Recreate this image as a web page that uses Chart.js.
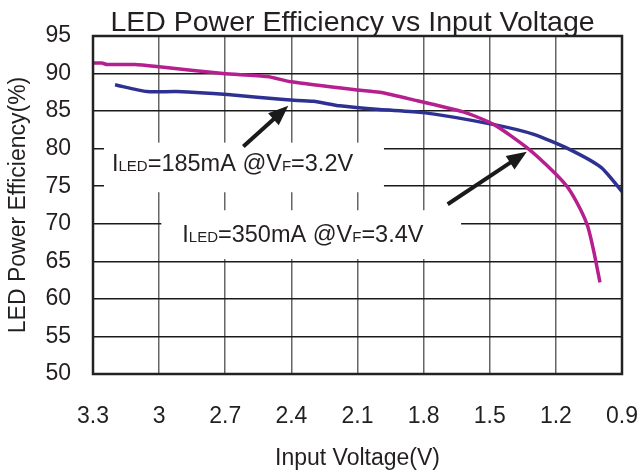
<!DOCTYPE html>
<html>
<head>
<meta charset="utf-8">
<script src="https://cdn.jsdelivr.net/npm/chart.js"></script>
<style>
  body { margin: 0; background: #fff; }
  canvas { display: block; }
</style>
</head>
<body>
<canvas id="myChart" width="640" height="475"></canvas>
<script>
// valores
const volt350 = [3.30, 3.26, 3.236, 3.11, 3.00, 2.71, 2.51, 2.40, 2.10, 2.00, 1.86, 1.62, 1.48, 1.33, 1.21, 1.145, 1.09, 1.055, 1.027, 1.00];
const eff350  = [91.4, 91.4, 91.2, 91.2, 90.9, 90.0, 89.6, 88.9, 87.8, 87.5, 86.6, 84.9, 83.2, 80.1, 76.9, 74.8, 72.0, 69.6, 66.2, 62.2];

const volt185 = [3.20, 3.055, 2.92, 2.69, 2.42, 2.30, 2.18, 2.00, 1.80, 1.48, 1.30, 1.145, 0.995, 0.90];
const eff185  = [88.5, 87.6, 87.6, 87.2, 86.5, 86.3, 85.7, 85.2, 84.8, 83.2, 81.9, 80.0, 77.5, 74.3];

const xTicks = [0.9, 1.2, 1.5, 1.8, 2.1, 2.4, 2.7, 3.0, 3.3];
const xTickLabels = ['0.9', '1.2', '1.5', '1.8', '2.1', '2.4', '2.7', '3', '3.3'];

const titleText = 'LED Power Efficiency vs Input Voltage';

// etiquetas: [x, y] en unidades de datos
const labels = [
  { parts: [['I', 1], ['LED', 0], ['=185mA @V', 1], ['F', 0], ['=3.2V', 1]], at: [3.214, 78.1], box: [3.25, 1.98, 80.8, 74.2] },
  { parts: [['I', 1], ['LED', 0], ['=350mA @V', 1], ['F', 0], ['=3.4V', 1]], at: [2.895, 68.7], box: [2.99, 1.63, 71.8, 65.3] }
];
const arrows = [
  { from: [2.618, 80.3], to: [2.414, 85.7] },
  { from: [1.691, 72.6], to: [1.332, 79.6] }
];

const FONT = '"Liberation Sans", Arial, sans-serif';
const TXT = '#231f20';

const toXY = (xs, ys) => xs.map((v, i) => ({ x: v, y: ys[i] }));

const annoPlugin = {
  id: 'anno',
  beforeDatasetsDraw(chart) {
    const { ctx, scales: { x, y } } = chart;
    ctx.save();
    ctx.fillStyle = '#fff';
    labels.forEach(l => {
      const x1 = x.getPixelForValue(l.box[0]), x2 = x.getPixelForValue(l.box[1]);
      const y1 = y.getPixelForValue(l.box[2]), y2 = y.getPixelForValue(l.box[3]);
      ctx.fillRect(x1, y1, x2 - x1, y2 - y1);
    });
    ctx.restore();
  },
  afterDatasetsDraw(chart) {
    const { ctx, chartArea: a, scales: { x, y } } = chart;
    ctx.save();
    // marco
    ctx.strokeStyle = '#222';
    ctx.lineWidth = 2.5;
    ctx.strokeRect(a.left, a.top, a.right - a.left, a.bottom - a.top);

    // titulo
    ctx.fillStyle = TXT;
    ctx.textAlign = 'center';
    ctx.textBaseline = 'alphabetic';
    ctx.font = '28.5px ' + FONT;
    ctx.fillText(titleText, (a.left + a.right) / 2 - 5, 30.5);
    ctx.textAlign = 'left';

    // textos
    labels.forEach(l => {
      let px = x.getPixelForValue(l.at[0]);
      const py = y.getPixelForValue(l.at[1]) + 8.5;
      l.parts.forEach(p => {
        ctx.font = (p[1] ? '23.5px ' : '15px ') + FONT;
        ctx.fillText(p[0], px, py);
        px += ctx.measureText(p[0]).width;
      });
    });

    // flechas
    ctx.strokeStyle = '#1a1a1a';
    ctx.fillStyle = '#1a1a1a';
    ctx.lineWidth = 4;
    arrows.forEach(ar => {
      const x0 = x.getPixelForValue(ar.from[0]), y0 = y.getPixelForValue(ar.from[1]);
      const x1 = x.getPixelForValue(ar.to[0]), y1 = y.getPixelForValue(ar.to[1]);
      const ang = Math.atan2(y1 - y0, x1 - x0);
      const hl = 20, hw = 8;
      const bx = x1 - hl * Math.cos(ang), by = y1 - hl * Math.sin(ang);
      ctx.beginPath();
      ctx.moveTo(x0, y0);
      ctx.lineTo(bx + 2 * Math.cos(ang), by + 2 * Math.sin(ang));
      ctx.stroke();
      ctx.beginPath();
      ctx.moveTo(x1, y1);
      ctx.lineTo(bx + hw * Math.sin(ang), by - hw * Math.cos(ang));
      ctx.lineTo(bx - hw * Math.sin(ang), by + hw * Math.cos(ang));
      ctx.closePath();
      ctx.fill();
    });
    ctx.restore();
  }
};

const ctx = document.getElementById('myChart');
const config = {
  type: 'line',
  data: {
    datasets: [{
      label: 'ILED=350mA',
      data: toXY(volt350, eff350),
      borderColor: '#b51f8e',
      borderWidth: 3.5,
      pointRadius: 0,
      tension: 0.2,
      fill: false
    }, {
      label: 'ILED=185mA',
      data: toXY(volt185, eff185),
      borderColor: '#2e3192',
      borderWidth: 3.5,
      pointRadius: 0,
      tension: 0.2,
      fill: false
    }]
  },
  options: {
    responsive: false,
    animation: false,
    devicePixelRatio: 1,
    layout: { padding: { top: 36, right: 18 } },
    plugins: {
      legend: { display: false },
      tooltip: { enabled: false },
      title: { display: false }
    },
    scales: {
      x: {
        type: 'linear',
        reverse: true,
        min: 0.9,
        max: 3.3,
        afterBuildTicks: s => { s.ticks = xTicks.map(v => ({ value: v })); },
        afterFit: s => { s.height = 101; },
        border: { display: false },
        grid: { color: '#666', lineWidth: 1.5, drawTicks: false },
        ticks: {
          color: TXT,
          padding: 29,
          font: { family: FONT, size: 23 },
          callback: v => xTickLabels[xTicks.indexOf(v)]
        },
        title: {
          display: true,
          text: 'Input Voltage(V)',
          color: TXT,
          font: { family: FONT, size: 23 },
          padding: { top: 15, bottom: 3 }
        }
      },
      y: {
        min: 50,
        max: 95,
        afterFit: s => { s.width = 93; },
        border: { display: false },
        grid: { color: '#1a1a1a', lineWidth: 1.5, drawTicks: false },
        ticks: {
          stepSize: 5,
          color: TXT,
          padding: 22,
          font: { family: FONT, size: 23 }
        },
        title: {
          display: true,
          text: 'LED Power Efficiency(%)',
          color: TXT,
          font: { family: FONT, size: 23 },
          padding: { top: 5, bottom: 0 }
        }
      }
    }
  },
  plugins: [annoPlugin]
};

const chart = new Chart(ctx, config);
</script>
</body>
</html>
